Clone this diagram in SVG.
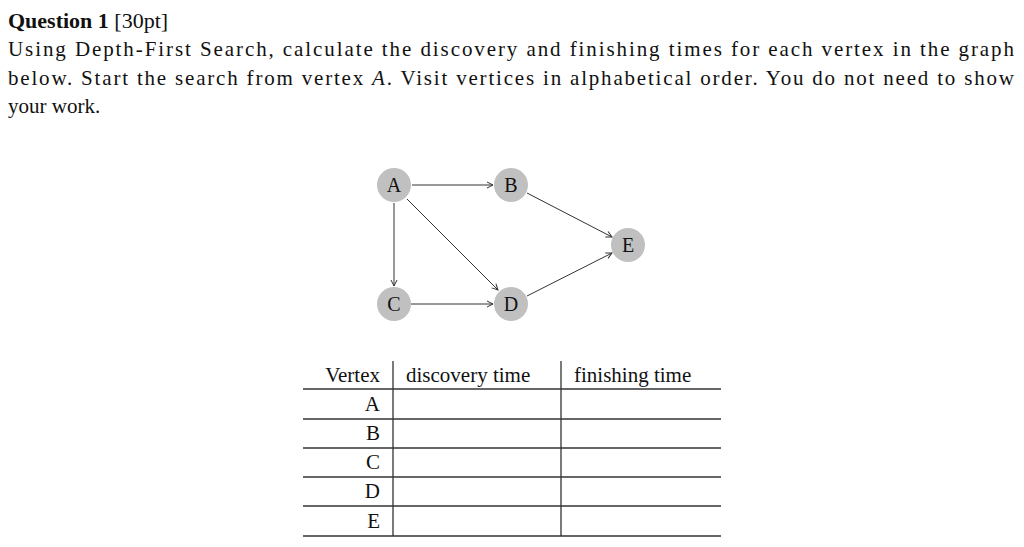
<svg xmlns="http://www.w3.org/2000/svg" width="1024" height="547" viewBox="0 0 1024 547">
<style>
text{font-family:"Liberation Serif","DejaVu Serif",serif;fill:#111}
.b{font-size:21px}
.n circle{fill:#c0c0c0}
.n text{font-size:20px;text-anchor:middle}
.e line{stroke:#333;stroke-width:1;marker-end:url(#ah)}
.t line{stroke:#333;stroke-width:1.3}
.c{font-size:21px;text-anchor:end}
</style>
<defs><marker id="ah" viewBox="0 0 8 8" refX="7" refY="4" markerWidth="8" markerHeight="8" markerUnits="userSpaceOnUse" orient="auto"><path d="M1,1 L7,4 L1,7" fill="none" stroke="#333" stroke-width="1"/></marker></defs>
<rect width="1024" height="547" fill="#fff"/>
<text x="8" y="28" style="font-size:22px"><tspan font-weight="bold">Question 1</tspan> [30pt]</text>
<text class="b" x="8" y="56" textLength="1006" lengthAdjust="spacing">Using Depth-First Search, calculate the discovery and finishing times for each vertex in the graph</text>
<text class="b" x="8" y="85" textLength="1006" lengthAdjust="spacing">below. Start the search from vertex <tspan font-style="italic">A</tspan>. Visit vertices in alphabetical order. You do not need to show</text>
<text class="b" x="8" y="113">your work.</text>
<g id="edges" class="e">
<line x1="412" y1="185" x2="493" y2="185"/>
<line x1="394" y1="203" x2="394" y2="286"/>
<line x1="407" y1="199" x2="498" y2="290"/>
<line x1="411" y1="304" x2="493" y2="304"/>
<line x1="527" y1="193" x2="612" y2="237"/>
<line x1="527" y1="296" x2="612" y2="253"/>
</g>
<g id="A" class="n"><circle cx="394" cy="185" r="17"/><text x="394" y="192">A</text></g>
<g id="B" class="n"><circle cx="511" cy="185" r="17"/><text x="511" y="192">B</text></g>
<g id="C" class="n"><circle cx="394" cy="304" r="17"/><text x="394" y="311">C</text></g>
<g id="D" class="n"><circle cx="511" cy="304" r="17"/><text x="511" y="311">D</text></g>
<g id="E" class="n"><circle cx="628" cy="245" r="17"/><text x="628" y="252">E</text></g>
<g id="table" class="t">
<line x1="303" y1="389" x2="721" y2="389"/>
<line x1="303" y1="419" x2="721" y2="419"/>
<line x1="303" y1="448" x2="721" y2="448"/>
<line x1="303" y1="477" x2="721" y2="477"/>
<line x1="303" y1="506" x2="721" y2="506"/>
<line x1="303" y1="536" x2="721" y2="536"/>
<line x1="393" y1="361" x2="393" y2="536"/>
<line x1="561" y1="361" x2="561" y2="536"/>
<text x="380" y="382" class="c">Vertex</text>
<text x="406" y="382" class="b">discovery time</text>
<text x="574" y="382" class="b">finishing time</text>
<text x="380" y="411" class="c">A</text>
<text x="380" y="440" class="c">B</text>
<text x="380" y="469" class="c">C</text>
<text x="380" y="498" class="c">D</text>
<text x="380" y="528" class="c">E</text>
</g>
</svg>
